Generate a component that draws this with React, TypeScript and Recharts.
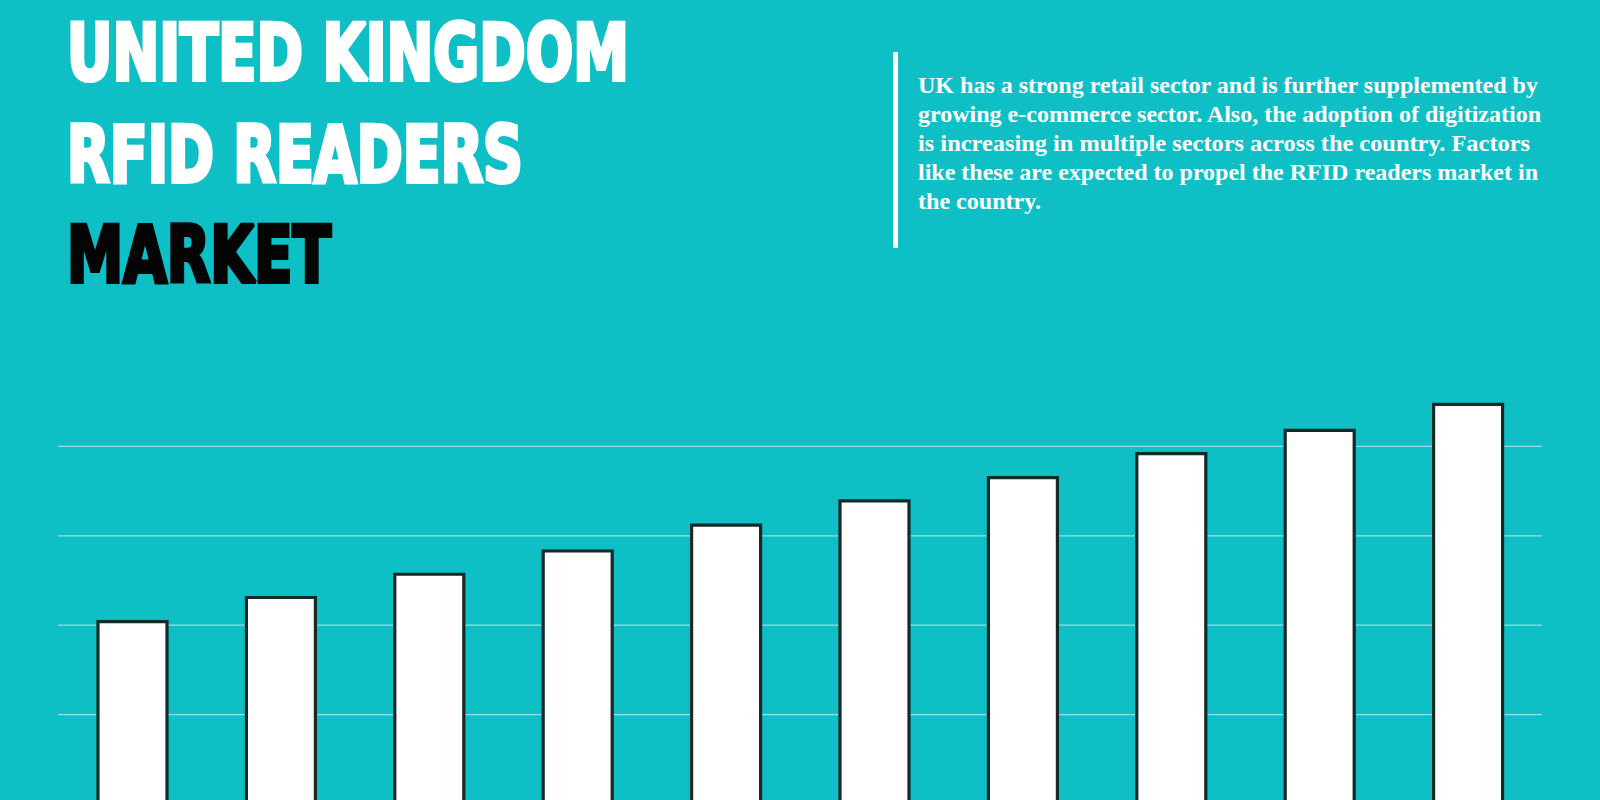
import { BarChart, Bar, XAxis, YAxis, CartesianGrid } from 'recharts';

// market size index per year (no labels shown on the graphic)
const years = ['2019', '2020', '2021', '2022', '2023', '2024', '2025', '2026', '2027', '2028'];
const marketSize = [2.04, 2.31, 2.57, 2.83, 3.12, 3.39, 3.65, 3.92, 4.18, 4.47];
const gridTicks = [1, 2, 3, 4];

const titleWhite = ['UNITED KINGDOM', 'RFID READERS'];
const titleBlack = 'MARKET';
const blurb = [
  'UK has a strong retail sector and is further supplemented by',
  'growing e-commerce sector. Also, the adoption of digitization',
  'is increasing in multiple sectors across the country. Factors',
  'like these are expected to propel the RFID readers market in',
  'the country.',
];

const BG = '#0fbfc6';
const titleWidths = [562, 456, 264];
const blurbWidths = [620, 623, 612, 620, 123];

const data = years.map((year, i) => ({ year, value: marketSize[i] }));

const titleFont = "'Liberation Sans Narrow', 'DejaVu Sans Condensed', 'Liberation Sans', sans-serif";
const bodyFont = "'Liberation Serif', 'DejaVu Serif', serif";

export default function App() {
  return (
    <div
      style={{
        position: 'absolute',
        top: 0,
        left: 0,
        width: 1600,
        height: 800,
        overflow: 'hidden',
        background: BG,
      }}
    >
      <div style={{ position: 'absolute', top: 0, left: 0 }}>
        <BarChart
          width={1600}
          height={810}
          data={data}
          margin={{ top: 357, right: 58, bottom: 6, left: 58 }}
          barCategoryGap={0}
        >
          <CartesianGrid
            vertical={false}
            horizontalValues={gridTicks}
            stroke="rgba(255,255,255,0.55)"
            strokeWidth={1.2}
          />
          <XAxis dataKey="year" hide />
          <YAxis hide domain={[0, 5]} ticks={gridTicks} />
          <Bar
            dataKey="value"
            fill="#ffffff"
            stroke="#162828"
            strokeWidth={3.2}
            barSize={69}
            isAnimationActive={false}
          />
        </BarChart>
      </div>

      <svg
        width={1600}
        height={320}
        style={{ position: 'absolute', top: 0, left: 0, pointerEvents: 'none' }}
      >
        {titleWhite.map((t, i) => (
          <text
            key={t}
            x={67}
            y={80 + i * 101.5}
            fontFamily={titleFont}
            fontWeight="bold"
            fontSize={78}
            fill="#ffffff"
            stroke="#ffffff"
            strokeWidth={4}
            strokeLinejoin="miter"
            strokeMiterlimit={2}
            textLength={titleWidths[i]}
            lengthAdjust="spacingAndGlyphs"
          >
            {t}
          </text>
        ))}
        <text
          x={67}
          y={282}
          fontFamily={titleFont}
          fontWeight="bold"
          fontSize={78}
          fill="#050505"
          stroke="#050505"
          strokeWidth={4}
          strokeLinejoin="miter"
          strokeMiterlimit={2}
          textLength={titleWidths[2]}
          lengthAdjust="spacingAndGlyphs"
        >
          {titleBlack}
        </text>

        <rect x={893} y={52} width={5} height={196} fill="#ffffff" />
        {blurb.map((line, i) => (
          <text
            key={i}
            x={918}
            y={92.7 + i * 29.1}
            fontFamily={bodyFont}
            fontWeight="bold"
            fontSize={24}
            fill="#ffffff"
            textLength={blurbWidths[i]}
            lengthAdjust="spacingAndGlyphs"
          >
            {line}
          </text>
        ))}
      </svg>
    </div>
  );
}
